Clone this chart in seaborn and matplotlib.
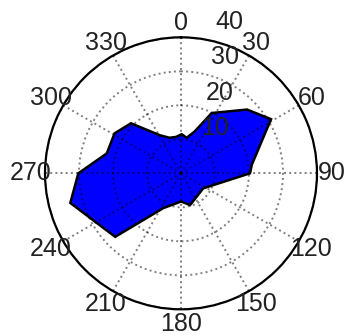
import numpy as np
import matplotlib
matplotlib.use("Agg")
import matplotlib.pyplot as plt
import seaborn as sns

# polygon vertices: compass angle (deg, clockwise from north) and radius
angles_deg = [1, 9, 18, 27, 46, 59, 83, 90, 124, 164, 180, 207, 226,
              255, 270, 285, 301, 315, 331, 342, 352]
radii = [11.5, 10.6, 12.9, 19.9, 27.0, 30.9, 21.0, 20.3, 7.9, 9.7, 8.3, 11.5, 26.9,
         33.7, 30.2, 22.6, 22.8, 20.8, 12.8, 11.0, 10.8]

ring_ticks = [10, 20, 30, 40]
spoke_angles = list(range(0, 360, 30))

sns.set_style("white")
plt.rcParams["font.family"] = ["Liberation Sans", "DejaVu Sans"]

fig = plt.figure(figsize=(3.49, 3.35), dpi=100)
ax = fig.add_axes([0.1289, 0.0767, 0.7794, 0.8119], projection="polar")
ax.set_theta_zero_location("N")
ax.set_theta_direction(-1)

theta = np.deg2rad(angles_deg)
ax.fill(theta, radii, facecolor="#0000ff", edgecolor="black", linewidth=1.8, zorder=2)
ax.set_ylim(0, 40)

# dotted grid drawn over the filled polygon
ax.set_thetagrids(spoke_angles, labels=[])
ax.set_rgrids(ring_ticks, labels=[])
ax.set_axisbelow(False)
ax.grid(True, color="black", alpha=0.5, linestyle=":", linewidth=1.4)
ax.spines["polar"].set_linewidth(1.6)
ax.spines["polar"].set_color("black")

for a in spoke_angles:
    ax.text(np.deg2rad(a), 44.3, str(a), ha="center", va="center",
            fontsize=18, color="#222222", clip_on=False)

for r in ring_ticks:
    ax.annotate(str(r), xy=(np.deg2rad(8), r * 1.05), xytext=(15, 3),
                textcoords="offset pixels", ha="left", va="baseline",
                fontsize=18, color="#222222", annotation_clip=False)

fig.savefig("out.png", dpi=100)
